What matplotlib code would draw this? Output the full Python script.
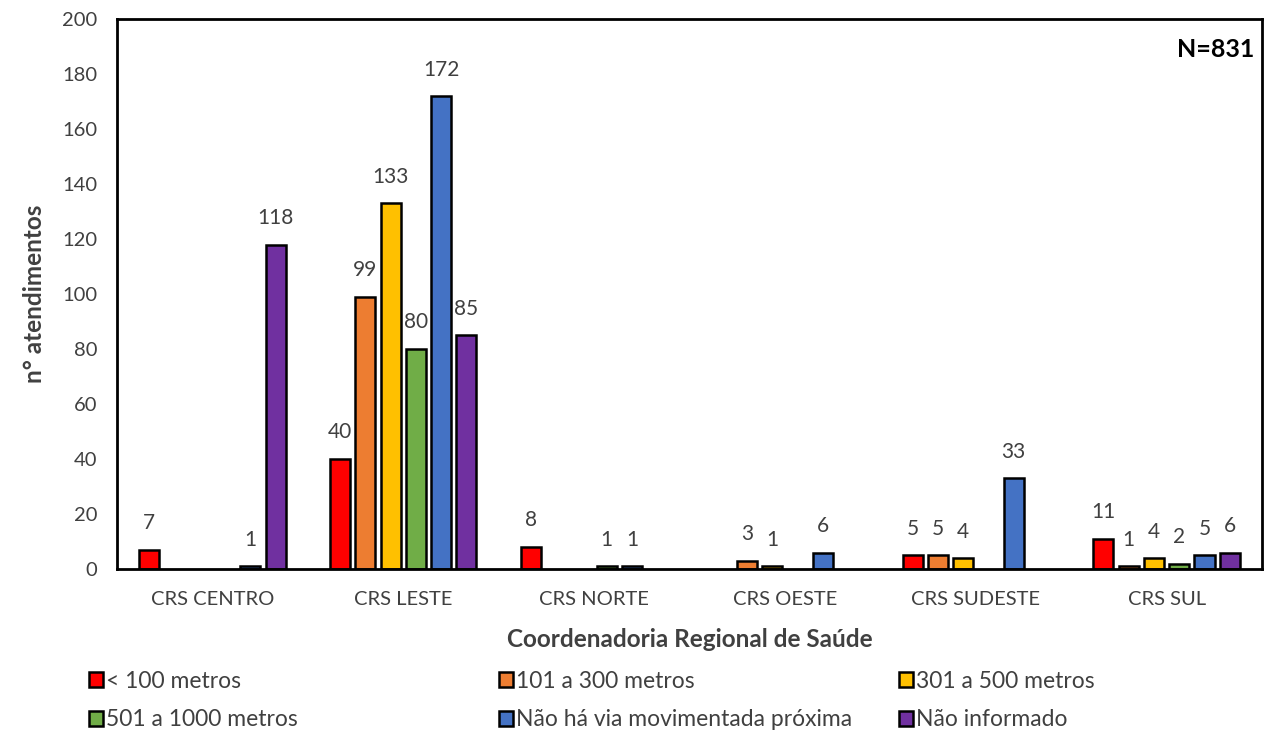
import matplotlib
matplotlib.use("Agg")
import matplotlib.pyplot as plt
import numpy as np
from matplotlib.patches import Patch

plt.rcParams['font.family'] = ['Lato', 'DejaVu Sans']

categories = ["CRS CENTRO", "CRS LESTE", "CRS NORTE", "CRS OESTE", "CRS SUDESTE", "CRS SUL"]
series_names = ["< 100 metros", "101 a 300 metros", "301 a 500 metros",
                "501 a 1000 metros", "Não há via movimentada próxima", "Não informado"]
colors = ["#FF0000", "#ED7D31", "#FFC000", "#70AD47", "#4472C4", "#7030A0"]

lt100 = [7, 40, 8, 0, 5, 11]
m101_300 = [0, 99, 0, 3, 5, 1]
m301_500 = [0, 133, 0, 1, 4, 4]
m501_1000 = [0, 80, 1, 0, 0, 2]
sem_via = [1, 172, 1, 6, 33, 5]
nao_informado = [118, 85, 0, 0, 0, 6]
series = [lt100, m101_300, m301_500, m501_1000, sem_via, nao_informado]

fig = plt.figure(figsize=(12.69, 7.33), dpi=100)
ax = fig.add_axes([117/1269, 1 - 569/733, 1145/1269, 550/733])

x = np.arange(len(categories))
step = 0.1325
width = 0.105
for i, (vals, col) in enumerate(zip(series, colors)):
    pos = x + (i - 2.5) * step
    v = np.array(vals, dtype=float)
    v[v == 0] = np.nan  # empty categories get no bar
    ax.bar(pos, v, width=width, color=col, edgecolor="black", linewidth=1.8)
    for xp, val in zip(pos, v):
        if val > 0:
            ax.text(xp, val + 6, f"{int(val)}", ha="center", va="bottom",
                    fontsize=15, color="#404040")

ax.set_xlim(-0.5, 5.5)
ax.set_ylim(0, 200)
ax.set_yticks(np.arange(0, 201, 20))
ax.set_xticks(x)
ax.set_xticklabels(categories)
ax.tick_params(axis="both", length=0, labelsize=14.5, colors="#404040")
ax.tick_params(axis="x", pad=16)
ax.tick_params(axis="y", pad=14)
for s in ax.spines.values():
    s.set_linewidth(2)
    s.set_color("black")

ax.set_xlabel("Coordenadoria Regional de Saúde", fontsize=17.5, fontweight="bold",
              color="#404040", labelpad=14)
ax.set_ylabel("n° atendimentos", fontsize=17.5, fontweight="bold", color="#404040", labelpad=12)

ax.text(0.993, 0.965, "N=831", transform=ax.transAxes, ha="right", va="top",
        fontsize=18, fontweight="bold", color="black")

# legend entries placed in a 3x2 grid beneath the plot
col_x = [89/1269, 499/1269, 899/1269]
row_y = [1 - 681/733, 1 - 720/733]
for i, (name, col) in enumerate(zip(series_names, colors)):
    r, c = divmod(i, 3)
    h = Patch(facecolor=col, edgecolor="black", linewidth=1.8)
    fig.legend([h], [name], loc="center left", bbox_to_anchor=(col_x[c], row_y[r]),
               frameon=False, fontsize=16.5, handlelength=0.6, handleheight=0.6,
               handletextpad=0.15, borderpad=0, borderaxespad=0, labelcolor="#404040")

fig.savefig("out.png", dpi=100)
